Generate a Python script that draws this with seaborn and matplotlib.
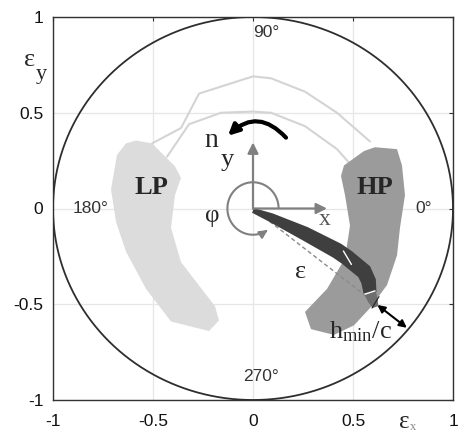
import numpy as np
import pandas as pd
import matplotlib
matplotlib.use("Agg")
import matplotlib.pyplot as plt
import seaborn as sns
from matplotlib.patches import FancyArrowPatch
from matplotlib.path import Path

# ---------------- data ----------------
ticks = [-1, -0.5, 0, 0.5, 1]
tick_labels = ["-1", "-0.5", "0", "0.5", "1"]

lp_x = [-0.635, -0.585, -0.505, -0.39, -0.36, -0.39, -0.41, -0.36, -0.19, -0.17, -0.22, -0.41, -0.535, -0.635, -0.685, -0.71, -0.68]
lp_y = [0.34, 0.355, 0.34, 0.22, 0.16, 0.07, -0.10, -0.28, -0.51, -0.585, -0.64, -0.59, -0.42, -0.225, -0.07, 0.10, 0.28]

hp_x = [0.61, 0.72, 0.745, 0.76, 0.735, 0.72, 0.67, 0.585, 0.505, 0.405, 0.29, 0.26, 0.37, 0.46, 0.485, 0.46, 0.44, 0.455, 0.555]
hp_y = [0.32, 0.31, 0.225, 0.07, -0.10, -0.245, -0.40, -0.52, -0.61, -0.66, -0.63, -0.54, -0.42, -0.26, -0.09, 0.07, 0.17, 0.225, 0.30]

outer_x = [-0.505, -0.36, -0.27, 0.0, 0.09, 0.26, 0.42, 0.585]
outer_y = [0.34, 0.42, 0.60, 0.69, 0.68, 0.61, 0.50, 0.35]
inner_x = [-0.43, -0.32, -0.16, 0.0, 0.09, 0.26, 0.42, 0.505]
inner_y = [0.27, 0.44, 0.50, 0.506, 0.50, 0.43, 0.31, 0.21]

band_x = [0.0, 0.089, 0.258, 0.42, 0.47, 0.556, 0.578, 0.585]
band_y = [-0.01, -0.047, -0.13, -0.22, -0.256, -0.33, -0.38, -0.44]
band_w = [5, 9, 14, 16, 16, 16, 15, 13]
tail_x = [0.585, 0.60, 0.612]
tail_y = [-0.44, -0.48, -0.515]
tail_w = [12, 10, 6]

eps_angle = -39.0
eps_r_dash = 0.76
hmin_r = [0.80, 0.99]

angle_labels = ["0°", "90°", "180°", "270°"]
angle_pos = [(0.855, 0.0), (0.065, 0.92), (-0.81, 0.0), (0.04, -0.877)]

# ---------------- style ----------------
sns.set_theme(style="white")
plt.rcParams["font.family"] = ["Liberation Sans", "DejaVu Sans"]
plt.rcParams["mathtext.fontset"] = "custom"
plt.rcParams["mathtext.rm"] = "Liberation Serif"
plt.rcParams["mathtext.it"] = "Liberation Serif"
SERIF = ["Liberation Serif", "DejaVu Serif"]

fig = plt.figure(figsize=(4.59, 4.34), dpi=100)
fig.patch.set_facecolor("white")
ax = fig.add_axes([53 / 459, 34 / 434, 400 / 459, 383 / 434])
ax.set_facecolor("white")
ax.set_xlim(-1, 1)
ax.set_ylim(-1, 1)

# arcs (light gray)
sns.lineplot(x=outer_x, y=outer_y, sort=False, estimator=None, color="#d4d4d4", lw=1.5, ax=ax, zorder=1.5)
sns.lineplot(x=inner_x, y=inner_y, sort=False, estimator=None, color="#d4d4d4", lw=1.5, ax=ax, zorder=1.5)

# regions
ax.fill(lp_x, lp_y, color="#dcdcdc", lw=0, zorder=2)
ax.fill(hp_x, hp_y, color="#9b9b9b", lw=0, zorder=2)

# unit circle
th = np.linspace(0, 2 * np.pi, 721)
circ = pd.DataFrame({"cx": np.cos(th), "cy": np.sin(th)})
sns.lineplot(data=circ, x="cx", y="cy", sort=False, estimator=None, color="#2e2e2e", lw=1.3, ax=ax, zorder=3)

ax.set_xlim(-1, 1)
ax.set_ylim(-1, 1)
ax.set_xlabel("")
ax.set_ylabel("")
ax.set_xticks(ticks)
ax.set_xticklabels(tick_labels)
ax.set_yticks(ticks)
ax.set_yticklabels(tick_labels)
ax.grid(True, color="#e6e6e6", lw=0.9)
ax.set_axisbelow(True)
ax.tick_params(direction="in", top=True, right=True, length=3, width=0.8,
               color="#333333", labelsize=12.5, labelcolor="#111111")
ax.tick_params(axis="x", pad=10)
ax.tick_params(axis="y", pad=7)
for s in ax.spines.values():
    s.set_color("#333333")
    s.set_linewidth(1.0)

# band polygon built in pixel space
def band_poly(xs, ys, ws):
    P = ax.transData.transform(np.column_stack([xs, ys]))
    d = np.gradient(P, axis=0)
    d /= np.linalg.norm(d, axis=1)[:, None]
    n = np.column_stack([-d[:, 1], d[:, 0]])
    w = np.asarray(ws)[:, None] / 2.0
    top = P + n * w
    bot = P - n * w
    poly = np.vstack([top, bot[::-1]])
    return ax.transData.inverted().transform(poly)

# dashed epsilon line
a = np.deg2rad(eps_angle)
ax.plot([0, eps_r_dash * np.cos(a)], [0, eps_r_dash * np.sin(a)], ls=(0, (3, 2)), color="#8a8a8a", lw=1.0, zorder=3.5)

pb = band_poly(band_x, band_y, band_w)
ax.fill(pb[:, 0], pb[:, 1], color="#3f3f3f", lw=0, zorder=4)
pt = band_poly(tail_x, tail_y, tail_w)
ax.fill(pt[:, 0], pt[:, 1], color="#6e6e6e", lw=0, zorder=4)
# white breaks
ax.plot([0.452, 0.492], [-0.222, -0.292], color="white", lw=1.0, zorder=4.5)
ax.plot([0.56, 0.61], [-0.447, -0.43], color="white", lw=1.0, zorder=4.5)
ax.plot([0.595, 0.63], [-0.52, -0.46], color="#222222", lw=0.8, zorder=4.6)

# coordinate arrows
for tip in [(0.37, 0.0), (0.0, 0.345)]:
    ax.add_patch(FancyArrowPatch((0, 0), tip, arrowstyle="-|>", mutation_scale=16,
                                 color="#808080", lw=1.6, zorder=5, shrinkA=0, shrinkB=0))

# phi circular arrow
rx, ry = 0.128, 0.137
tt = np.deg2rad(np.linspace(2, 305, 80))
verts = np.column_stack([rx * np.cos(tt), ry * np.sin(tt)])
codes = [Path.MOVETO] + [Path.LINETO] * (len(verts) - 1)
ax.add_patch(FancyArrowPatch(path=Path(verts, codes), arrowstyle="-|>", mutation_scale=12,
                             color="#808080", lw=1.5, zorder=5))

# curved black arrow
ax.add_patch(FancyArrowPatch((0.165, 0.37), (-0.125, 0.38), connectionstyle="arc3,rad=0.5",
                             arrowstyle="-|>", mutation_scale=16, color="black", lw=3,
                             zorder=6, shrinkA=0, shrinkB=0))

# h_min/c double arrow
ax.add_patch(FancyArrowPatch((hmin_r[0] * np.cos(a), hmin_r[0] * np.sin(a)),
                             (hmin_r[1] * np.cos(a), hmin_r[1] * np.sin(a)),
                             arrowstyle="<|-|>", mutation_scale=11, color="black", lw=1.5,
                             zorder=6, shrinkA=0, shrinkB=0))

# labels
for lab, (x, y) in zip(angle_labels, angle_pos):
    ax.text(x, y, lab, ha="center", va="center", fontsize=12.5, color="#333333", zorder=7)

ax.text(-0.51, 0.11, "LP", fontfamily=SERIF, fontweight="bold", fontsize=19, ha="center", va="center", zorder=7)
ax.text(0.61, 0.11, "HP", fontfamily=SERIF, fontweight="bold", fontsize=19, ha="center", va="center", zorder=7)
ax.text(-0.21, 0.355, "n", fontfamily=SERIF, fontsize=20, ha="center", va="center", zorder=7)
ax.text(-0.13, 0.255, "y", fontfamily=SERIF, fontsize=19, ha="center", va="center", zorder=7)
ax.text(-0.205, -0.04, "φ", fontfamily=SERIF, fontsize=18, ha="center", va="center", zorder=7)
ax.text(0.36, -0.06, "x", fontfamily=SERIF, fontsize=17, ha="center", va="center", color="#555555", zorder=3.8)
ax.text(0.24, -0.33, "ε", fontfamily=SERIF, fontsize=19, ha="center", va="center", zorder=7)
ax.text(0.382, -0.68, r"$\mathrm{h_{min}/c}$", fontsize=19, ha="left", va="baseline", zorder=7)

ax.text(-1.117, 0.778, "ε", fontfamily=SERIF, fontsize=19, ha="center", va="center", clip_on=False)
ax.text(-1.06, 0.70, "y", fontfamily=SERIF, fontsize=16, ha="center", va="center", clip_on=False)
ax.text(0.754, -1.115, "ε", fontfamily=SERIF, fontsize=18, ha="center", va="center", clip_on=False)
ax.text(0.80, -1.14, "x", fontfamily=SERIF, fontsize=9, ha="center", va="center", color="#888888", clip_on=False)

fig.savefig("out.png", dpi=100, facecolor="white")
